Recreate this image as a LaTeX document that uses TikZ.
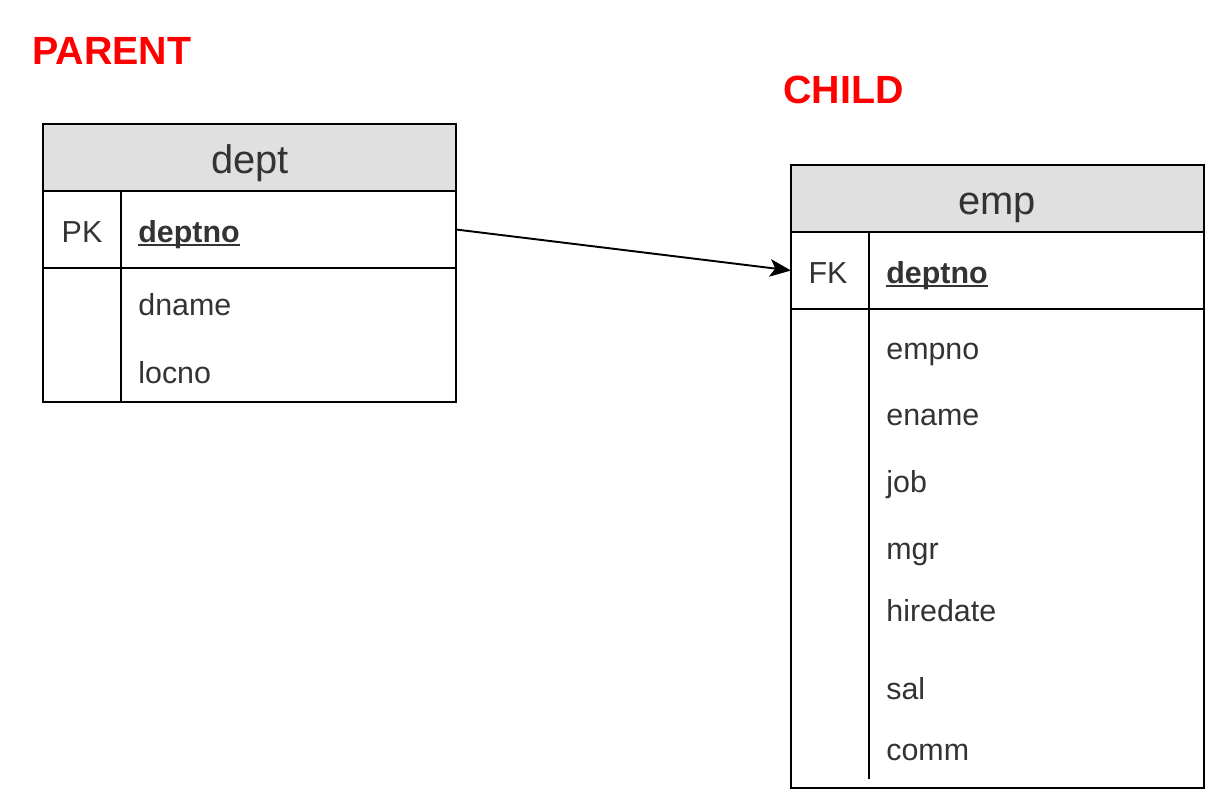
\documentclass[tikz,border=0pt]{standalone}
\usepackage{fontspec}
\setmainfont{Liberation Sans}
\usepackage{xcolor}
\usepackage{calc}
\usetikzlibrary{positioning,arrows.meta}

\definecolor{headgray}{HTML}{E0E0E0}
\definecolor{inkgray}{HTML}{333333}
\def\pxu{0.02cm}
\newcommand{\keyname}[1]{\textbf{#1}\llap{\rule[-2.2pt]{\widthof{\textbf{#1}}}{1.1pt}}}

\begin{document}
\begin{tikzpicture}[x=0.02cm, y=-0.02cm,
  tablebox/.style={draw, line width=1.1pt, inner sep=0pt, outer sep=0pt, minimum width=413*\pxu},
  headbox/.style={tablebox, fill=headgray, minimum height=67*\pxu},
  keybox/.style={tablebox, minimum height=77*\pxu},
  headtext/.style={anchor=base, inner sep=0pt, text=inkgray, font=\fontsize{22.7}{26}\selectfont},
  fieldtext/.style={anchor=base west, inner sep=0pt, text=inkgray, font=\fontsize{17.3}{20}\selectfont},
  keytext/.style={anchor=base, inner sep=0pt, text=inkgray, font=\fontsize{17.3}{20}\selectfont},
  titletext/.style={anchor=base west, inner sep=0pt, text=red, font=\fontsize{22.4}{26}\selectfont\bfseries}]
  \useasboundingbox (0,0) rectangle (1206,791);

  % titles
  \node[titletext] (parent) at (32,64) {PARENT};
  \node[titletext] (child) at (783,103) {CHILD};

  % parent table
  \node[headbox] (depthead) at (249.5,157.5) {};
  \node[keybox, below=0pt of depthead] (deptkey) {};
  \node[tablebox, minimum height=134*\pxu, below=0pt of deptkey] (deptbody) {};
  \draw[line width=1.1pt] (121,191) -- (121,402);
  \node[headtext] (deptname) at (250,173) {dept};
  \node[keytext] (deptpk) at (82,242) {PK};
  \node[fieldtext] (deptno) at (138,242) {\keyname{deptno}};
  \node[fieldtext] (dname) at (138,315) {dname};
  \node[fieldtext] (locno) at (138,383) {locno};

  % child table
  \node[headbox] (emphead) at (997.5,198.5) {};
  \node[keybox, below=0pt of emphead] (empkey) {};
  \node[tablebox, minimum height=479*\pxu, below=0pt of empkey] (empbody) {};
  \draw[line width=1.1pt] (869,232) -- (869,779);
  \node[headtext] (empname) at (997,214) {emp};
  \node[keytext] (empfk) at (828,283) {FK};
  \node[fieldtext] (empdeptno) at (886,283) {\keyname{deptno}};
  \foreach \fld/\yy in {empno/359, ename/425, job/492, mgr/559, hiredate/621, sal/699, comm/760}
    \node[fieldtext] (emp-\fld) at (886,\yy) {\fld};

  % reference
  \draw[line width=1.1pt, -{Stealth[length=12pt, width=10pt, inset=3pt]}] (deptkey.east) -- (empkey.west);
\end{tikzpicture}
\end{document}
